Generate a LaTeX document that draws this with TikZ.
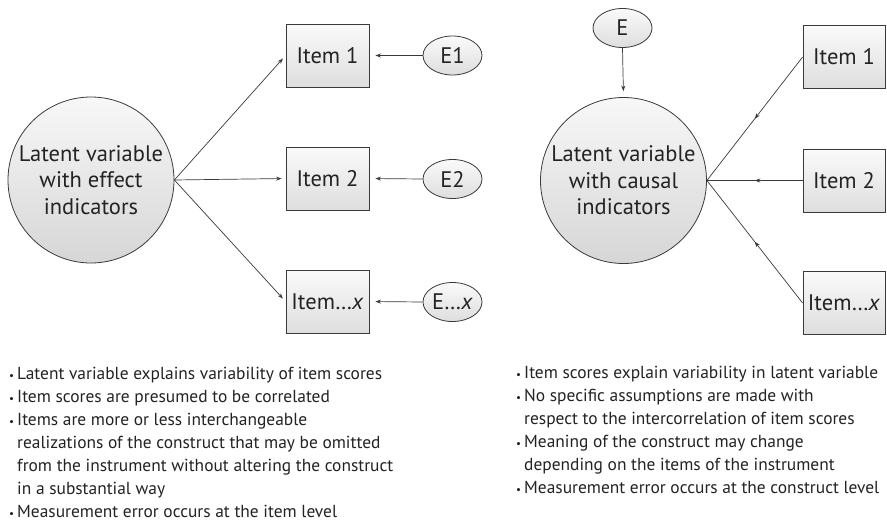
\documentclass[tikz,border=0pt]{standalone}
\usepackage{fontspec}
\usepackage{graphicx}
\setmainfont{PT Sans}
\usetikzlibrary{shapes.geometric,arrows.meta,decorations.markings}
\definecolor{ink}{HTML}{3A3A3A}
\definecolor{txt}{HTML}{232323}
\newcommand\bul{\makebox[8pt][l]{{\fontsize{11}{11}\selectfont •}}}
\newcommand\ind{\hspace*{8pt}}
\tikzset{
  latent/.style={circle, draw=ink, line width=0.8pt, minimum size=166pt, inner sep=0pt,
    top color=black!3, bottom color=black!16, align=center,
    font=\fontsize{22.5}{26.5}\selectfont, text=txt},
  itembox/.style={rectangle, draw=ink, line width=0.8pt, minimum width=83pt, minimum height=63pt,
    inner sep=0pt, top color=black!2, bottom color=black!13,
    font=\fontsize{22.5}{25}\selectfont, text=txt},
  errnode/.style={ellipse, draw=ink, line width=0.8pt, minimum width=59pt, minimum height=39pt,
    inner sep=0pt, top color=black!2, bottom color=black!13,
    font=\fontsize{22.5}{25}\selectfont, text=txt},
  link/.style={draw=ink, line width=0.7pt, -{Stealth[length=5.5pt,width=4pt]}},
  midlink/.style={draw=ink, line width=0.7pt, postaction={decorate},
    decoration={markings, mark=at position 0.5 with {\arrow{Stealth[length=5.5pt,width=4pt]}}}},
  notes/.style={anchor=north west, align=left, inner sep=0pt,
    font=\fontsize{17.4}{23}\selectfont, text=txt},
}
\begin{document}
\begin{tikzpicture}[x=1pt,y=-1pt]
  \useasboundingbox[fill=white] (0,0) rectangle (887,522);

  % reflective (effect indicator) model
  \node[latent] (lvA) at (91,180) {Latent variable\\with effect\\indicators};
  \node[itembox] (a1) at (327.5,55.5) {Item 1};
  \node[itembox] (a2) at (327.5,178.5) {Item 2};
  \node[itembox] (ax) at (327.5,301.5) {Item…\textit{x}};
  \node[errnode] (e1) at (452.5,55.5) {E1};
  \node[errnode] (e2) at (452.5,179) {E2};
  \node[errnode] (ex) at (452.5,302) {E…\textit{x}};

  \foreach \t in {a1,a2,ax}
    \draw[link, shorten >=4pt] (lvA.east) -- (\t.west);
  \draw[link, shorten >=6pt] (e1.west) -- (a1.east);
  \draw[link, shorten >=6pt] (e2.west) -- (a2.east);
  \draw[link, shorten >=6pt] (ex.west) -- (ax.east);

  % formative (causal indicator) model
  \node[latent] (lvB) at (623.5,180.5) {Latent variable\\with causal\\indicators};
  \node[errnode] (eB) at (622.5,28) {E};
  \node[itembox, minimum width=82pt] (b1) at (844,57) {Item 1};
  \node[itembox, minimum width=82pt] (b2) at (844,180.5) {Item 2};
  \node[itembox, minimum width=82pt] (bx) at (844,303) {Item…\textit{x}};

  \draw[link, shorten >=6pt] (eB.south) -- (lvB.north);
  \foreach \t in {b1,b2,bx}
    \draw[midlink] (\t.west) -- (lvB.east);

  % notes
  \node[notes] (notesA) at (9,367) {%
    \bul Latent variable explains variability of item scores\\
    \bul Item scores are presumed to be correlated\\
    \bul Items are more or less interchangeable\\
    \ind realizations of the construct that may be omitted\\
    \ind from the instrument without altering the construct\\
    \ind in a substantial way\\
    \bul Measurement error occurs at the item level};
  \node[notes] (notesB) at (516,366) {%
    \bul Item scores explain variability in latent variable\\
    \bul No specific assumptions are made with\\
    \ind respect to the intercorrelation of item scores\\
    \bul Meaning of the construct may change\\
    \ind depending on the items of the instrument\\
    \bul Measurement error occurs at the construct level};
\end{tikzpicture}
\end{document}
